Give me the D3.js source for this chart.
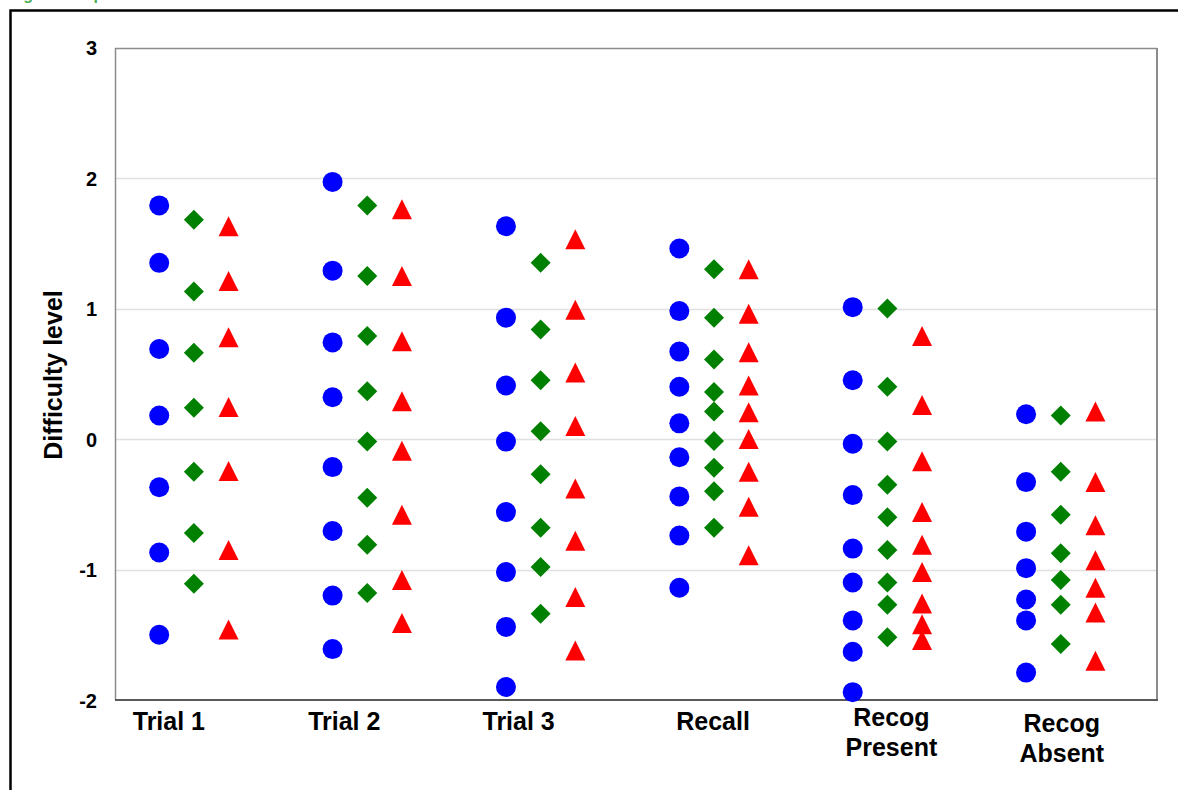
<!DOCTYPE html>
<html>
<head>
<meta charset="utf-8">
<script src="https://cdn.jsdelivr.net/npm/d3@7"></script>
<style>
  html, body { margin: 0; padding: 0; background: #fff; }
  svg { display: block; font-family: "Liberation Sans", Arial, sans-serif; }
</style>
</head>
<body>
<svg id="chart" width="1178" height="790"></svg>
<script>
// ---- data ----
const categories = ["Trial 1", "Trial 2", "Trial 3", "Recall", "Recog Present", "Recog Absent"];
const yTicks = [-2, -1, 0, 1, 2, 3];

// circle series (blue), one array per category
const circleValues = [
  [1.79, 1.35, 0.69, 0.18, -0.37, -0.87, -1.50],
  [1.97, 1.29, 0.74, 0.32, -0.215, -0.705, -1.20, -1.61],
  [1.63, 0.93, 0.41, -0.02, -0.56, -1.02, -1.44, -1.90],
  [1.46, 0.98, 0.67, 0.40, 0.12, -0.14, -0.44, -0.74, -1.14],
  [1.01, 0.45, -0.036, -0.43, -0.84, -1.10, -1.39, -1.63, -1.94],
  [0.19, -0.33, -0.71, -0.99, -1.23, -1.39, -1.79]
];
// diamond series (green)
const diamondValues = [
  [1.68, 1.13, 0.66, 0.24, -0.25, -0.72, -1.11],
  [1.79, 1.25, 0.79, 0.365, -0.02, -0.45, -0.81, -1.18],
  [1.35, 0.84, 0.45, 0.06, -0.27, -0.68, -0.98, -1.34],
  [1.30, 0.93, 0.61, 0.36, 0.21, -0.015, -0.22, -0.40, -0.68],
  [1.00, 0.40, -0.02, -0.35, -0.60, -0.85, -1.10, -1.27, -1.52],
  [0.18, -0.25, -0.58, -0.875, -1.08, -1.27, -1.57]
];
// triangle series (red)
const triangleValues = [
  [1.63, 1.21, 0.78, 0.245, -0.245, -0.85, -1.46],
  [1.76, 1.25, 0.75, 0.29, -0.09, -0.58, -1.08, -1.41],
  [1.53, 0.99, 0.51, 0.10, -0.38, -0.78, -1.21, -1.62],
  [1.30, 0.96, 0.665, 0.41, 0.205, 0.0, -0.25, -0.52, -0.89],
  [0.79, 0.26, -0.17, -0.56, -0.81, -1.02, -1.26, -1.42, -1.54],
  [0.21, -0.33, -0.66, -0.93, -1.14, -1.33, -1.70]
];

// ---- layout ----
const plot = { left: 115, right: 1157, top: 47.5, bottom: 700 };
const seriesOffset = 0.2;               // horizontal offset of circle/triangle from category centre
const labelShift = [-25, -23, -22, -1, 4, 1];  // manual label nudges (px)
const labelBaseline = [730, 730, 730, 730, 726, 732];

const svg = d3.select("#chart");

const x = d3.scaleLinear().domain([0.545, 6.555]).range([plot.left, plot.right]);
const y = d3.scaleLinear().domain([-2, 3]).range([plot.bottom, plot.top]);

// caption fragment (cut off at top, as in the source image)
svg.append("text")
  .attr("x", 9).attr("y", 0)
  .attr("fill", "#4caf50")
  .attr("font-size", 16).attr("font-weight", "bold")
  .text("Fig. 1 Group");

// outer black frame
svg.append("rect")
  .attr("x", 10.5).attr("y", 10.5)
  .attr("width", 1200).attr("height", 800)
  .attr("fill", "none").attr("stroke", "#000").attr("stroke-width", 2.5);

// gridlines
svg.append("g")
  .selectAll("line")
  .data(yTicks.filter(t => t > -2 && t < 3))
  .join("line")
  .attr("x1", plot.left).attr("x2", plot.right)
  .attr("y1", d => Math.round(y(d)) + 0.5).attr("y2", d => Math.round(y(d)) + 0.5)
  .attr("stroke", "#e0e0e0").attr("stroke-width", 1.5);

// plot border
svg.append("line").attr("x1", plot.left).attr("x2", plot.right)
  .attr("y1", 48.5).attr("y2", 48.5).attr("stroke", "#8c8c8c").attr("stroke-width", 1.5);
svg.append("line").attr("x1", plot.left + 0.5).attr("x2", plot.left + 0.5)
  .attr("y1", 48).attr("y2", plot.bottom).attr("stroke", "#8c8c8c").attr("stroke-width", 1.5);
svg.append("line").attr("x1", plot.right).attr("x2", plot.right)
  .attr("y1", 48).attr("y2", plot.bottom).attr("stroke", "#8c8c8c").attr("stroke-width", 2);
svg.append("line").attr("x1", plot.left).attr("x2", plot.right + 1)
  .attr("y1", plot.bottom).attr("y2", plot.bottom).attr("stroke", "#5a5a5a").attr("stroke-width", 2);

// y axis (labels only)
const yAxis = d3.axisLeft(y).tickValues(yTicks).tickSize(0).tickPadding(0).tickFormat(d => String(d));
const yg = svg.append("g").attr("transform", `translate(97,0)`).call(yAxis);
yg.select(".domain").remove();
yg.attr("font-size", null).attr("font-family", null);
yg.selectAll("text")
  .attr("font-size", 20).attr("font-weight", "bold").attr("fill", "#000")
  .attr("dy", "0.36em");

// y axis title
svg.append("text")
  .attr("transform", `translate(62,375) rotate(-90)`)
  .attr("text-anchor", "middle")
  .attr("font-size", 25).attr("font-weight", "bold")
  .text("Difficulty level");

// category labels
categories.forEach((c, i) => {
  const words = c.startsWith("Recog") ? c.split(" ") : [c];
  const t = svg.append("text")
    .attr("text-anchor", "middle")
    .attr("font-size", 25).attr("font-weight", "bold");
  const cx = x(i + 1) + labelShift[i];
  words.forEach((w, k) => {
    t.append("tspan").attr("x", cx).attr("y", labelBaseline[i] + k * 30).text(w);
  });
});

// marker shapes
const circlePath = r => d3.symbol(d3.symbolCircle, Math.PI * r * r)();
const diamondPath = h => `M0,${-h}L${h},0L0,${h}L${-h},0Z`;
const trianglePath = h => `M0,${-h}L${h},${h}L${-h},${h}Z`;

function series(values, offset, path, color) {
  const pts = [];
  values.forEach((arr, i) => arr.forEach(v => pts.push({ c: i + 1, v })));
  svg.append("g")
    .selectAll("path")
    .data(pts)
    .join("path")
    .attr("transform", d => `translate(${x(d.c + offset)},${y(d.v)})`)
    .attr("d", path)
    .attr("fill", color);
}

series(circleValues, -seriesOffset, circlePath(10), "#0000ff");
series(diamondValues, 0, diamondPath(10), "#008000");
series(triangleValues, seriesOffset, trianglePath(10), "#ff0000");
</script>
</body>
</html>
